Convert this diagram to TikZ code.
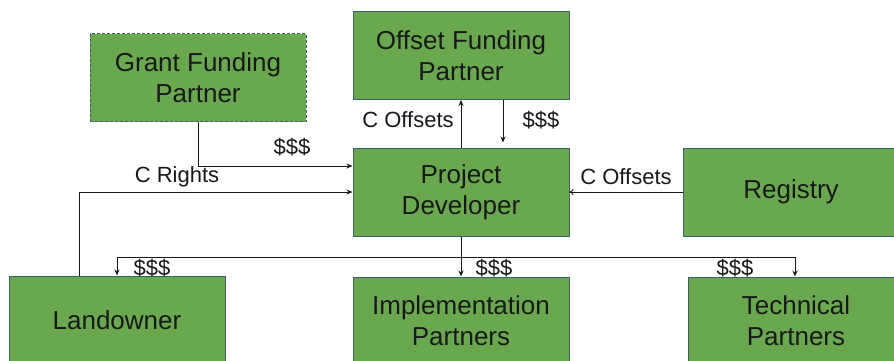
\documentclass[tikz,border=0pt]{standalone}
\usepackage{fontspec}
\setmainfont{Liberation Sans}
\usetikzlibrary{arrows.meta}
\definecolor{boxfill}{RGB}{106,168,79}
\definecolor{boxline}{RGB}{58,96,108}
\definecolor{ink}{RGB}{25,25,25}
\tikzset{
  party/.style={draw=boxline, fill=boxfill, line width=1pt, minimum width=216pt,
    minimum height=88pt, inner sep=0pt, align=center, text=ink,
    font=\fontsize{26}{31}\selectfont},
  flow/.style={draw=ink, line width=0.9pt, -{Stealth[length=6pt,width=5pt]}},
  tag/.style={text=ink, inner sep=0pt, font=\fontsize{22}{24}\selectfont}
}
\begin{document}
\begin{tikzpicture}[x=1pt, y=-1pt]
  \useasboundingbox (0,0) rectangle (894,360);
  \clip (0,0) rectangle (894,360);
  \fill[white] (0,0) rectangle (894,360);

  % parties
  \node[party, dash pattern=on 3pt off 2pt] (grant) at (198,77.5) {Grant Funding\\Partner};
  \node[party] (ofp)   at (461,55.5) {Offset Funding\\Partner};
  \node[party] (pd)    at (461,192)  {Project\\Developer};
  \node[party] (reg)   at (791,192)  {Registry};
  \node[party] (land)  at (117,320)  {Landowner};
  \node[party] (impl)  at (461,321)  {Implementation\\Partners};
  \node[party] (tech)  at (796,321)  {Technical\\Partners};

  % flows into the developer
  \draw[flow] (grant.south) |- ([yshift=26pt]pd.west);
  \draw[flow] ([xshift=71pt]land.north west) |- (pd.west);
  \draw[draw=ink, line width=0.9pt, -{To[length=4pt,width=6pt]}] (reg.west) -- (pd.east);

  % exchange with the offset funder
  \draw[flow] (pd.north) -- (ofp.south);
  \draw[flow] ([xshift=42pt]ofp.south) -- ([xshift=42pt,yshift=5pt]pd.north);

  % payments out of the developer
  \coordinate (bus) at (461,257);
  \draw[flow] (pd.south) -- (impl.north);
  \draw[flow] (bus) -| (land.north);
  \draw[flow] (bus) -| ([xshift=-1pt]tech.north);

  % labels
  \node[tag] (l1) at (292,147) {\$\$\$};
  \node[tag] (l2) at (177,177) {C Rights};
  \node[tag] (l3) at (408,120) {C Offsets};
  \node[tag] (l4) at (541,120) {\$\$\$};
  \node[tag] (l5) at (626,177) {C Offsets};
  \node[tag] (l6) at (152,268) {\$\$\$};
  \node[tag] (l7) at (494,268) {\$\$\$};
  \node[tag] (l8) at (735,268) {\$\$\$};
\end{tikzpicture}
\end{document}
